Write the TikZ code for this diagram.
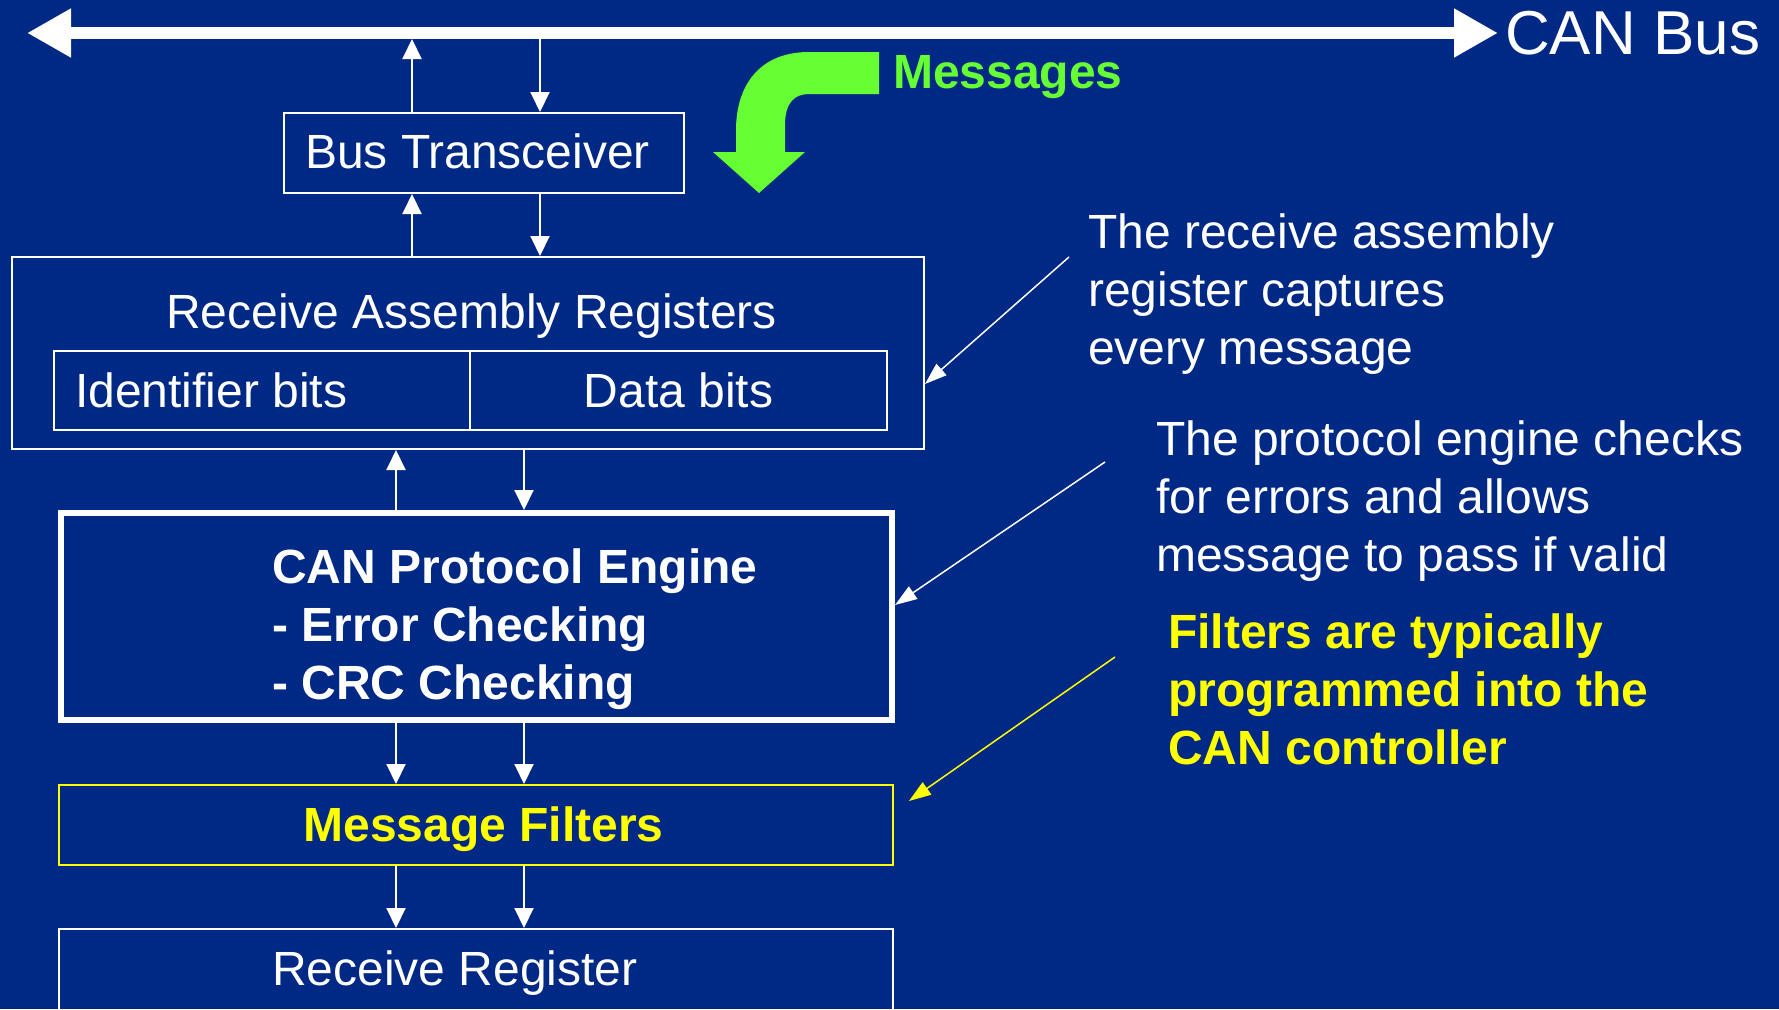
\documentclass[tikz,border=0pt]{standalone}
\usepackage{fontspec}
\setmainfont{Liberation Sans}
\usetikzlibrary{arrows.meta}
\definecolor{bg}{RGB}{0,40,133}
\definecolor{msggreen}{RGB}{102,255,51}
\definecolor{annyel}{RGB}{255,255,0}
\begin{document}
\begin{tikzpicture}[x=1pt,y=-1pt,
  box/.style={draw=white, line width=2pt, inner sep=0pt},
  arr/.style={draw=white, line width=2pt, -{Triangle[width=19pt,length=20pt]}},
  ptr/.style={draw=white, line width=1.5pt, -{Triangle[width=15pt,length=22pt]}},
  lbl/.style={text=white, font=\fontsize{48}{58}\selectfont, inner sep=0pt},
  lblb/.style={text=white, font=\fontsize{48}{58}\selectfont\bfseries, inner sep=0pt}
]
\fill[bg] (0,0) rectangle (1779,1009);
\useasboundingbox (0,0) rectangle (1779,1009);

% bus
\coordinate (busL) at (27,33);
\coordinate (busB) at (0,39);
\node[anchor=west, text=white, font=\fontsize{62}{70}\selectfont, inner xsep=7pt, inner ysep=0pt] (canbus) at (1498,33) {CAN Bus};
\draw[white, line width=12pt, {Triangle[width=46pt,length=44pt]}-{Triangle[width=46pt,length=44pt]}] (busL) -- (canbus.west);

% columns
\coordinate (c1) at (412,0);
\coordinate (c2) at (540,0);
\coordinate (c3) at (396,0);
\coordinate (c4) at (524,0);

% bus transceiver
\node[box, minimum width=400pt, minimum height=80pt] (bt) at (483.6,153) {};
\node[lbl, anchor=base] (btt) at (477.5,168) {Bus Transceiver};
\draw[arr] (c1 |- bt.north) -- (c1 |- busB);
\draw[arr] (c2 |- busB) -- (c2 |- bt.north);

% receive assembly registers
\node[box, minimum width=912pt, minimum height=192pt] (rar) at (468,353) {};
\node[lbl, anchor=base] (rart) at (471.5,328) {Receive Assembly Registers};
\node[box, minimum width=416pt, minimum height=79pt] (idc) at (262,390.5) {};
\node[box, lbl, minimum width=417pt, minimum height=79pt] (datc) at (678.5,390.5) {Data bits};
\node[lbl, anchor=base west] (idt) at (75,407) {Identifier bits};
\draw[arr] (c1 |- rar.north) -- (c1 |- bt.south);
\draw[arr] (c2 |- bt.south) -- (c2 |- rar.north);

% CAN protocol engine
\node[box, line width=6pt, minimum width=831pt, minimum height=207pt] (cpe) at (476.5,616.5) {};
\node[lblb, anchor=base west] (cpet) at (272,583) {\begin{tabular}[t]{@{}l@{}}CAN Protocol Engine\\- Error Checking\\- CRC Checking\end{tabular}};
\draw[arr] (c3 |- cpe.north) -- (c3 |- rar.south);
\draw[arr] (c4 |- rar.south) -- (c4 |- cpe.north);

% message filters
\node[box, draw=annyel, minimum width=834pt, minimum height=80pt] (mf) at (476,825) {};
\node[lblb, text=annyel, anchor=base] (mft) at (483.5,841) {Message Filters};
\draw[arr] (c3 |- cpe.south) -- (c3 |- mf.north);
\draw[arr] (c4 |- cpe.south) -- (c4 |- mf.north);

% receive register
\node[box, minimum width=834pt, minimum height=100pt] (rr) at (476,979) {};
\node[lbl, anchor=base west] (rrt) at (272,985) {Receive Register};
\draw[arr] (c3 |- mf.south) -- (c3 |- rr.north);
\draw[arr] (c4 |- mf.south) -- (c4 |- rr.north);

% green messages arrow
\fill[msggreen] (879,52) -- (809,52) .. controls (760,52) and (736,85) .. (736,130)
  -- (736,152) -- (713,152) -- (759,193) -- (805,152) -- (785,152) -- (785,125)
  .. controls (785,102) and (795,94) .. (809,94) -- (879,94) -- cycle;
\node[lblb, text=msggreen, anchor=base west] (msg) at (893,88) {Messages};

% annotations
\node[lbl, anchor=base west] (a1) at (1088,248) {\begin{tabular}[t]{@{}l@{}}The receive assembly\\register captures\\every message\end{tabular}};
\node[lbl, anchor=base west] (a2) at (1156,455) {\begin{tabular}[t]{@{}l@{}}The protocol engine checks\\for errors and allows\\message to pass if valid\end{tabular}};
\node[lblb, text=annyel, anchor=base west] (a3) at (1168,648) {\begin{tabular}[t]{@{}l@{}}Filters are typically\\programmed into the\\CAN controller\end{tabular}};

\coordinate (p1) at (1069,257);
\coordinate (e1) at (0,384);
\coordinate (p2) at (1105,462);
\coordinate (e2) at (0,605);
\coordinate (p3) at (1115,657);
\coordinate (e3) at (909,801);
\draw[ptr] (p1) -- (rar.east |- e1);
\draw[ptr] (p2) -- (cpe.east |- e2);
\draw[ptr, draw=annyel, fill=annyel] (p3) -- (e3);
\end{tikzpicture}
\end{document}
